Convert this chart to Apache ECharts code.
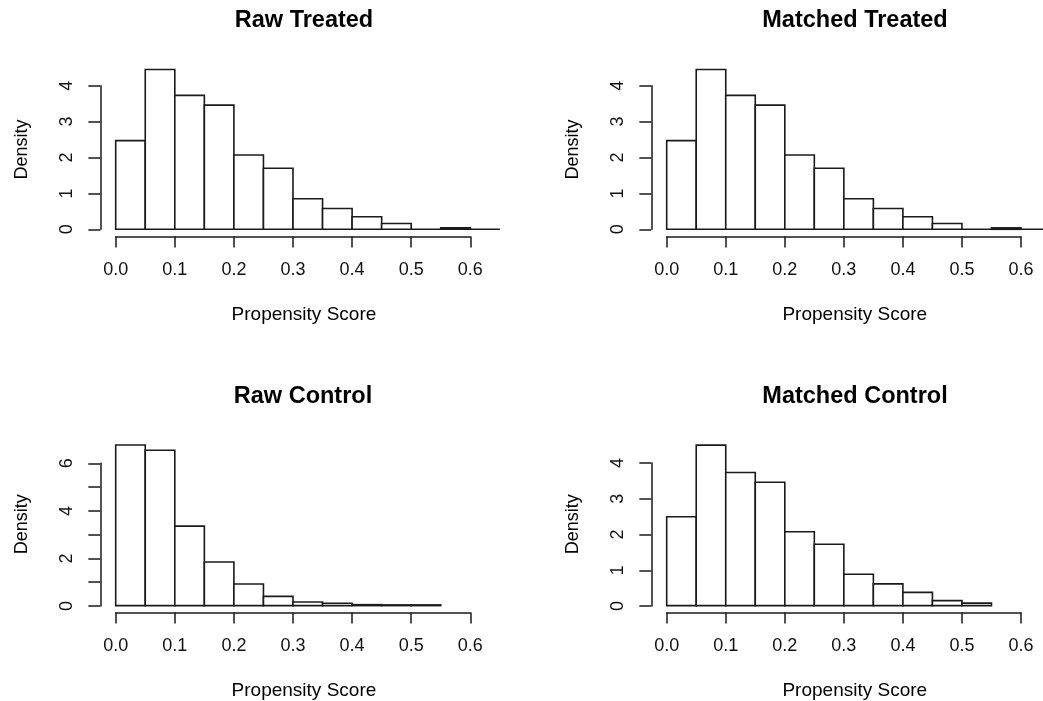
<!DOCTYPE html>
<html><head><meta charset="utf-8">
<script src="https://cdn.jsdelivr.net/npm/echarts@6/dist/echarts.min.js"></script>
<style>html,body{margin:0;padding:0;background:#fff}#c{width:1043px;height:701px}</style>
</head><body><div id="c"></div>
<script>
// ---- data (density per bin, bin width 0.05) ----
const binEdgesTreated = [0.00,0.05,0.10,0.15,0.20,0.25,0.30,0.35,0.40,0.45,0.50,0.55,0.60,0.65];
const binEdgesControl = [0.00,0.05,0.10,0.15,0.20,0.25,0.30,0.35,0.40,0.45,0.50,0.55];
const rawTreated      = [2.47,4.45,3.73,3.46,2.07,1.70,0.85,0.58,0.35,0.16,0.00,0.04,0.00];
const matchedTreated  = [2.47,4.45,3.73,3.46,2.07,1.70,0.85,0.58,0.35,0.16,0.00,0.04,0.00];
const rawControl      = [6.77,6.55,3.35,1.84,0.91,0.39,0.15,0.10,0.04,0.03,0.03];
const matchedControl  = [2.49,4.50,3.73,3.46,2.07,1.72,0.88,0.61,0.37,0.14,0.07];
const panelTitles = ['Raw Treated','Matched Treated','Raw Control','Matched Control'];
const xAxisTitle = 'Propensity Score';
const yAxisTitle = 'Density';
const xTickMax = 0.6, xTickStep = 0.1;

// ---- layout (pixels) ----
const FONT = '"Liberation Sans", Arial, sans-serif';
const INK = '#1a1a1a';
const layouts = [
  {zeroX:115.7, ppu:591,   zeroY:229.3, sy:35.9,  axisY:236.5, midY:149.5, titleX:304, titleTop:9,   yTop:4, yLabelStep:1},
  {zeroX:666.7, ppu:590.5, zeroY:229.3, sy:35.9,  axisY:236.5, midY:149.5, titleX:855, titleTop:9,   yTop:4, yLabelStep:1},
  {zeroX:115.7, ppu:591,   zeroY:606,   sy:23.78, axisY:612.4, midY:524.5, titleX:303, titleTop:385, yTop:6, yLabelStep:2},
  {zeroX:666.7, ppu:590.5, zeroY:606,   sy:35.75, axisY:612.4, midY:524.5, titleX:855, titleTop:385, yTop:4, yLabelStep:1}
];
const panelData = [
  {edges:binEdgesTreated, values:rawTreated},
  {edges:binEdgesTreated, values:matchedTreated},
  {edges:binEdgesControl, values:rawControl},
  {edges:binEdgesControl, values:matchedControl}
];
const XMIN = 0, XMAX = 0.637;   // visible plot-region span used for centring axis titles
const AXIS_OFFSET = 0.026;      // R places the y axis 4% left of the x range

const grid = [], xAxis = [], yAxis = [], series = [], title = [];
layouts.forEach((L, p) => {
  const gLeft = L.zeroX + XMIN * L.ppu;
  const gWidth = (XMAX - XMIN) * L.ppu;
  const gTop = 2 * L.midY - L.axisY;
  const gHeight = L.axisY - gTop;
  const ymin = -(L.axisY - L.zeroY) / L.sy;
  const ymax = (L.zeroY - gTop) / L.sy;
  const yAxisX = L.zeroX - AXIS_OFFSET * L.ppu;
  const gi = grid.length;
  // data grid (plot region)
  grid.push({left:gLeft, top:gTop, width:gWidth, height:gHeight, containLabel:false});
  xAxis.push({gridIndex:gi, type:'value', min:XMIN, max:XMAX, axisLine:{show:false}, axisTick:{show:false},
    axisLabel:{show:false}, splitLine:{show:false}, name:xAxisTitle, nameLocation:'middle', nameGap:69,
    nameTextStyle:{fontSize:19, color:'#000', fontFamily:FONT}});
  yAxis.push({gridIndex:gi, type:'value', min:ymin, max:ymax, axisLine:{show:false}, axisTick:{show:false},
    axisLabel:{show:false}, splitLine:{show:false}, name:yAxisTitle, nameLocation:'middle',
    nameGap:69 + (gLeft - yAxisX),
    nameTextStyle:{fontSize:18, color:'#000', fontFamily:FONT}});
  // x axis grid (R-style axis spanning ticks only)
  grid.push({left:L.zeroX, top:L.axisY - 1, width:xTickMax * L.ppu, height:1});
  xAxis.push({gridIndex:gi+1, type:'value', min:0, max:xTickMax, interval:xTickStep, position:'bottom',
    axisLine:{show:true, lineStyle:{color:INK, width:1.5}},
    axisTick:{show:true, length:11, lineStyle:{color:INK, width:1.5}},
    axisLabel:{margin:25, fontSize:18, color:'#111', fontFamily:FONT, formatter:v => v.toFixed(1)},
    splitLine:{show:false}});
  yAxis.push({gridIndex:gi+1, type:'value', show:false});
  // y axis grid
  grid.push({left:yAxisX, top:L.zeroY - L.yTop * L.sy, width:1, height:L.yTop * L.sy});
  xAxis.push({gridIndex:gi+2, type:'value', show:false});
  yAxis.push({gridIndex:gi+2, type:'value', min:0, max:L.yTop, interval:1, position:'left',
    axisLine:{show:true, lineStyle:{color:INK, width:1.5}},
    axisTick:{show:true, length:12, lineStyle:{color:INK, width:1.5}},
    axisLabel:{margin:24, fontSize:18, color:'#111', fontFamily:FONT, rotate:90,
      formatter:v => (Math.round(v) % L.yLabelStep === 0 ? String(Math.round(v)) : '')},
    splitLine:{show:false}});
  // histogram bars
  const D = panelData[p];
  series.push({type:'custom', xAxisIndex:gi, yAxisIndex:gi, clip:false, silent:true,
    data: D.values.map((v, i) => [D.edges[i], D.edges[i+1], v]),
    encode:{x:[0,1], y:2},
    renderItem:(params, api) => {
      const a = api.coord([api.value(0), api.value(2)]);
      const b = api.coord([api.value(1), 0]);
      return {type:'rect', shape:{x:a[0], y:a[1], width:b[0]-a[0], height:b[1]-a[1]},
        style:{fill:'#fff', stroke:INK, lineWidth:1.6}};
    }});
  title.push({text:panelTitles[p], left:L.titleX, top:L.titleTop, textAlign:'center', padding:0,
    textStyle:{fontSize:23.5, fontWeight:'bold', color:'#000', fontFamily:FONT}});
});

const chart = echarts.init(document.getElementById('c'), null, {renderer:'canvas'});
chart.setOption({backgroundColor:'#fff', animation:false, title, grid, xAxis, yAxis, series});
</script>
</body></html>
